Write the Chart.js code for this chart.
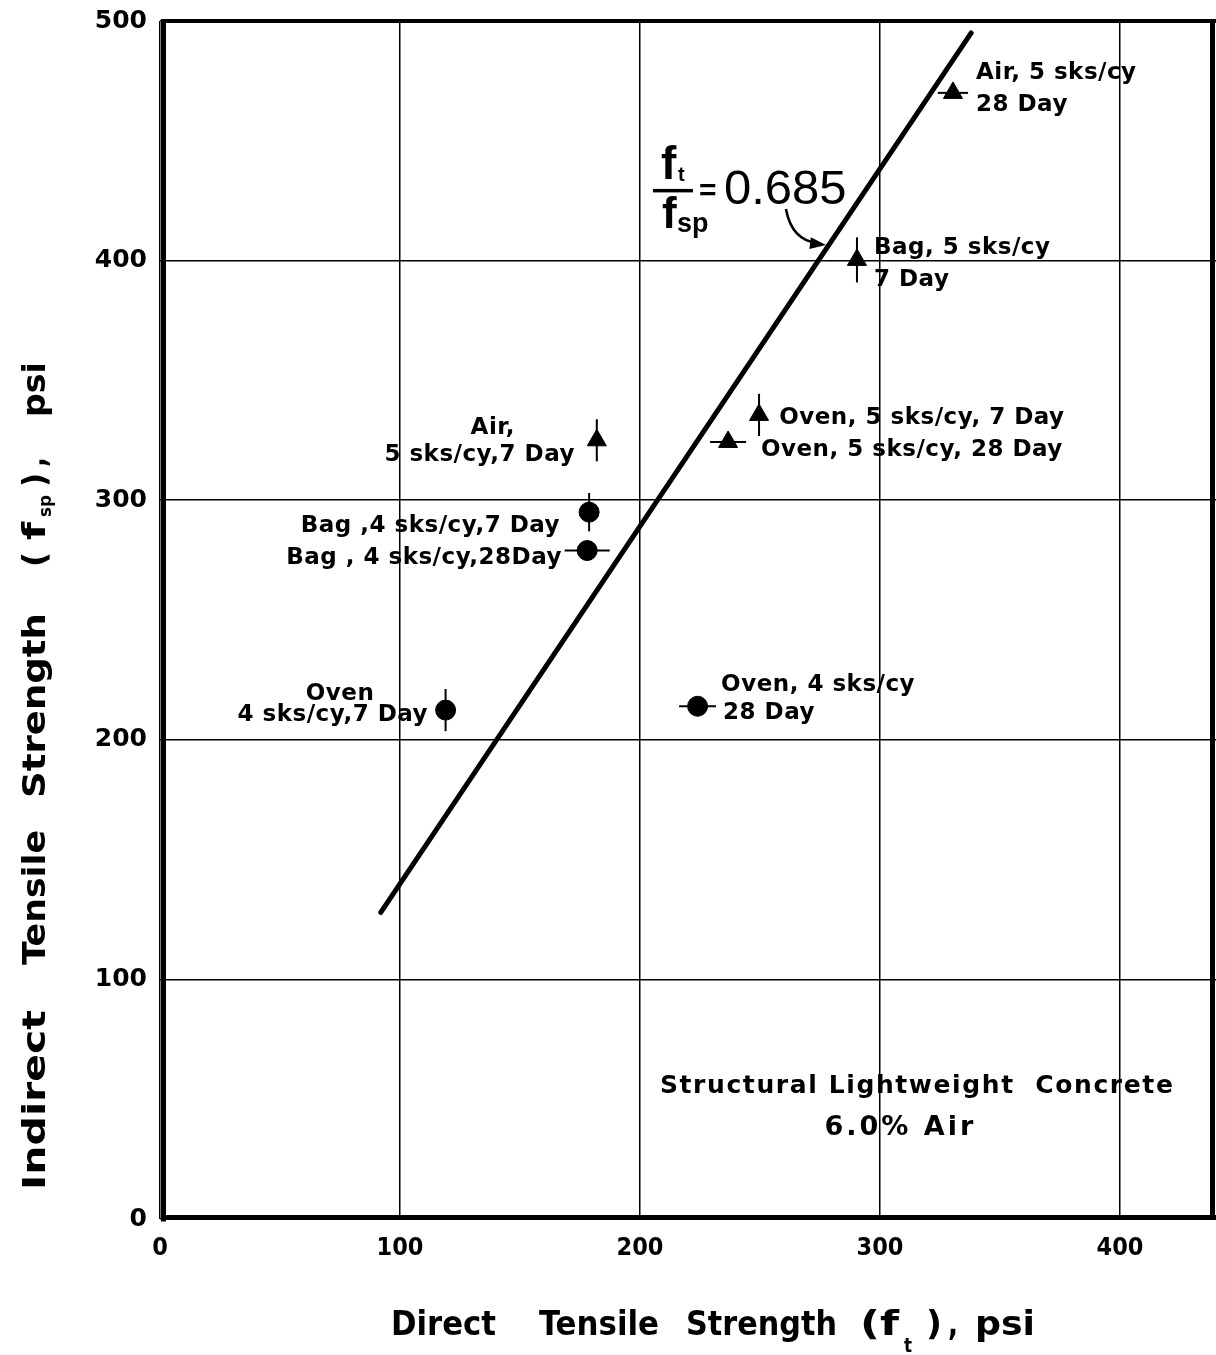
<!DOCTYPE html>
<html><head><meta charset="utf-8">
<script src="https://cdn.jsdelivr.net/npm/chart.js@4/dist/chart.umd.min.js"></script>
<style>html,body{margin:0;padding:0;background:#fff;overflow:hidden;}#wrap{width:1216px;height:1355px;position:relative;}canvas{display:block;}</style>
</head><body><div id="wrap"><canvas id="c" width="1216" height="1355"></canvas></div>
<script>
// ---- data ----
const xTicks = [0, 100, 200, 300, 400];
const yTicks = [0, 100, 200, 300, 400, 500];
// 5 sks/cy mixes (triangles)
const triNames = ["Air 5 sks/cy 28 Day", "Bag 5 sks/cy 7 Day", "Oven 5 sks/cy 7 Day", "Oven 5 sks/cy 28 Day", "Air 5 sks/cy 7 Day"];
const triX = [330.4, 290.4, 249.6, 236.7, 182.0];
const triY = [470.0, 400.3, 335.6, 324.3, 325.0];
const triXErr = [6.3, 0, 0, 7.5, 0];
const triYErr = [0, 9.4, 8.8, 0, 8.8];
// 4 sks/cy mixes (circles)
const cirNames = ["Bag 4 sks/cy 7 Day", "Bag 4 sks/cy 28 Day", "Oven 4 sks/cy 7 Day", "Oven 4 sks/cy 28 Day"];
const cirX = [178.8, 178.0, 119.0, 224.0];
const cirY = [295.0, 279.0, 212.4, 214.0];
const cirXErr = [0, 9.4, 0, 7.7];
const cirYErr = [8.0, 0, 8.8, 0];
// ratio line f_t / f_sp = 0.685
const lineX = [92, 338];
const lineY = [128, 495];

// ---- annotation text (anchors in data units) ----
const pointLabels = [
  {t: "Air, 5 sks/cy", x: 340, y: 478.3, a: "left"},
  {t: "28 Day", x: 340, y: 465.0, a: "left"},
  {t: "Bag, 5 sks/cy", x: 297.5, y: 405.3, a: "left"},
  {t: "7 Day", x: 297.5, y: 392.0, a: "left"},
  {t: "Oven, 5 sks/cy, 7 Day", x: 258, y: 334.3, a: "left"},
  {t: "Oven, 5 sks/cy, 28 Day", x: 250.4, y: 321.0, a: "left"},
  {t: "Air,", x: 147.9, y: 330.0, a: "right"},
  {t: "5 sks/cy,7 Day", x: 172.9, y: 318.9, a: "right"},
  {t: "Bag ,4 sks/cy,7 Day", x: 166.7, y: 289.2, a: "right"},
  {t: "Bag , 4 sks/cy,28Day", x: 167.5, y: 275.9, a: "right"},
  {t: "Oven", x: 75, y: 219.1, a: "center"},
  {t: "4 sks/cy,7 Day", x: 111.7, y: 210.4, a: "right"},
  {t: "Oven, 4 sks/cy", x: 233.8, y: 222.9, a: "left"},
  {t: "28 Day", x: 234.6, y: 211.2, a: "left"}
];
const noteLines = ["Structural Lightweight  Concrete", "6.0% Air"];
const noteX = [315.5, 308.5];
const noteY = [55.5, 38.0];
const ratioText = "0.685";

const FONT = '"DejaVu Sans", sans-serif';
const CFONT = '"DejaVu Sans Condensed", "DejaVu Sans", sans-serif';

function fitText(ctx, text, x, y, w) {
  const m = ctx.measureText(text).width;
  ctx.save(); ctx.translate(x, y); ctx.scale(w / m, 1); ctx.fillText(text, 0, 0); ctx.restore();
}
function noPad(s) { s.paddingLeft = 0; s.paddingRight = 0; s.paddingTop = 0; s.paddingBottom = 0; }

const decor = {
  id: 'decor',
  afterDatasetsDraw(chart) {
    const ctx = chart.ctx, xs = chart.scales.x, ys = chart.scales.y, ca = chart.chartArea;
    ctx.save();
    ctx.fillStyle = '#000'; ctx.strokeStyle = '#000';
    // error bars
    ctx.lineWidth = 2;
    const bars = (X, Y, XE, YE) => {
      for (let i = 0; i < X.length; i++) {
        const px = xs.getPixelForValue(X[i]), py = ys.getPixelForValue(Y[i]);
        if (XE[i]) { ctx.beginPath(); ctx.moveTo(xs.getPixelForValue(X[i] - XE[i]), py); ctx.lineTo(xs.getPixelForValue(X[i] + XE[i]), py); ctx.stroke(); }
        if (YE[i]) { ctx.beginPath(); ctx.moveTo(px, ys.getPixelForValue(Y[i] - YE[i])); ctx.lineTo(px, ys.getPixelForValue(Y[i] + YE[i])); ctx.stroke(); }
      }
    };
    bars(triX, triY, triXErr, triYErr);
    bars(cirX, cirY, cirXErr, cirYErr);
    // point labels
    ctx.font = 'bold 23px ' + FONT; ctx.textBaseline = 'middle';
    ctx.letterSpacing = '0.5px';
    for (const l of pointLabels) { ctx.textAlign = l.a; ctx.fillText(l.t, xs.getPixelForValue(l.x), ys.getPixelForValue(l.y)); }
    // note
    ctx.font = 'bold 25px ' + FONT; ctx.textAlign = 'center';
    ctx.letterSpacing = '1.6px';
    ctx.fillText(noteLines[0], xs.getPixelForValue(noteX[0]), ys.getPixelForValue(noteY[0]));
    ctx.font = 'bold 27px ' + FONT;
    ctx.letterSpacing = '3px';
    ctx.fillText(noteLines[1], xs.getPixelForValue(noteX[1]), ys.getPixelForValue(noteY[1]));
    ctx.letterSpacing = '0px';
    // equation f_t / f_sp = 0.685
    const ax = xs.getPixelForValue(205.4), ay = ys.getPixelForValue(429.3);
    ctx.fillRect(ax, ay - 1.5, 40, 3.5);
    ctx.textAlign = 'left'; ctx.textBaseline = 'alphabetic';
    ctx.font = 'bold 46px "Liberation Sans", sans-serif';
    ctx.fillText('f', ax + 8, ay - 11);
    ctx.font = 'bold 20px "Liberation Sans", sans-serif';
    ctx.fillText('t', ax + 25, ay - 9);
    ctx.font = 'bold 44px "Liberation Sans", sans-serif';
    ctx.fillText('f', ax + 9, ay + 38);
    ctx.font = 'bold 27px "Liberation Sans", sans-serif';
    ctx.fillText('sp', ax + 24, ay + 42);
    ctx.font = 'bold 30px "Liberation Sans", sans-serif';
    ctx.fillText('=', ax + 46, ay + 10);
    ctx.font = '49px "Liberation Sans", sans-serif';
    ctx.fillText(ratioText, ax + 71, ay + 14);
    // arrow
    const sx = xs.getPixelForValue(260.8), sy = ys.getPixelForValue(421.5);
    const ex = xs.getPixelForValue(277.5), ey = ys.getPixelForValue(406.5);
    const cx = sx + 6, cy = ey - 4;
    ctx.lineWidth = 2.5;
    ctx.beginPath(); ctx.moveTo(sx, sy); ctx.quadraticCurveTo(cx, cy, ex - 8, ey - 2); ctx.stroke();
    const ang = Math.atan2(ey - cy, ex - cx);
    ctx.beginPath();
    ctx.moveTo(ex, ey);
    ctx.lineTo(ex - 16 * Math.cos(ang) + 6 * Math.sin(ang), ey - 16 * Math.sin(ang) - 6 * Math.cos(ang));
    ctx.lineTo(ex - 16 * Math.cos(ang) - 6 * Math.sin(ang), ey - 16 * Math.sin(ang) + 6 * Math.cos(ang));
    ctx.closePath(); ctx.fill();
    // frame
    ctx.lineWidth = 5;
    ctx.beginPath(); ctx.moveTo(ca.left + 3.5, ca.top - 2); ctx.lineTo(ca.left + 3.5, ca.bottom + 2.5); ctx.stroke();
    ctx.beginPath(); ctx.moveTo(ca.left + 1, ca.bottom - 1.5); ctx.lineTo(ca.right, ca.bottom - 1.5); ctx.stroke();
    ctx.beginPath(); ctx.moveTo(ca.right - 3.5, ca.top - 2); ctx.lineTo(ca.right - 3.5, ca.bottom); ctx.stroke();
    ctx.lineWidth = 4;
    ctx.beginPath(); ctx.moveTo(ca.left + 1, ca.top); ctx.lineTo(ca.right, ca.top); ctx.stroke();
    // axis titles
    ctx.textAlign = 'left'; ctx.textBaseline = 'alphabetic';
    ctx.font = 'bold 34px ' + CFONT;
    const xt = [["Direct", 391, 496], ["Tensile", 539, 659], ["Strength", 686, 837], ["(f", 860, 899], [")", 926, 942], [",", 948, 958], ["psi", 975, 1035]];
    for (const p of xt) fitText(ctx, p[0], p[1], 1335, p[2] - p[1]);
    ctx.font = 'bold 20px ' + CFONT;
    fitText(ctx, 't', 904, 1352, 8);
    // y title rotated
    ctx.font = 'bold 32px ' + CFONT;
    const yt = [["Indirect", 1190, 1010], ["Tensile", 965, 830], ["Strength", 798, 613], ["(", 567, 552], ["f", 540, 522], [")", 487, 473], [",", 467, 457], ["psi", 417, 362]];
    for (const p of yt) {
      ctx.save(); ctx.translate(45, p[1]); ctx.rotate(-Math.PI / 2);
      fitText(ctx, p[0], 0, 0, p[1] - p[2]); ctx.restore();
    }
    ctx.font = 'bold 17px ' + CFONT;
    ctx.save(); ctx.translate(51, 517); ctx.rotate(-Math.PI / 2); fitText(ctx, 'sp', 0, 0, 22); ctx.restore();
    ctx.restore();
  }
};

new Chart(document.getElementById('c'), {
  data: {
    datasets: [
      { type: 'line', label: 'ratio', data: lineX.map((x, i) => ({x, y: lineY[i]})), borderColor: '#000', borderWidth: 5, pointRadius: 0, fill: false, borderCapStyle: 'round' },
      { type: 'scatter', label: '5 sks/cy', data: triX.map((x, i) => ({x, y: triY[i]})), pointStyle: 'triangle', pointRadius: 11, backgroundColor: '#000', borderColor: '#000', borderWidth: 1 },
      { type: 'scatter', label: '4 sks/cy', data: cirX.map((x, i) => ({x, y: cirY[i]})), pointStyle: 'circle', pointRadius: 10, backgroundColor: '#000', borderColor: '#000', borderWidth: 1 }
    ]
  },
  options: {
    responsive: false, animation: false, devicePixelRatio: 1,
    layout: { autoPadding: false, padding: { top: 21, right: 0, bottom: 0, left: 0 } },
    plugins: { legend: { display: false }, tooltip: { enabled: false } },
    scales: {
      x: {
        type: 'linear', min: 0, max: 440,
        afterBuildTicks: s => { s.ticks = xTicks.map(v => ({value: v})); },
        afterFit: s => { s.height = 136; noPad(s); },
        ticks: { color: '#000', padding: 14, font: { family: CFONT, size: 25, weight: 'bold' } },
        grid: { color: '#000', lineWidth: 1.5, drawTicks: false },
        border: { display: false }
      },
      y: {
        type: 'linear', min: 0, max: 500,
        afterBuildTicks: s => { s.ticks = yTicks.map(v => ({value: v})); },
        afterFit: s => { s.width = 160; noPad(s); },
        ticks: { color: '#000', padding: 13, font: { family: FONT, size: 25, weight: 'bold' } },
        grid: { color: '#000', lineWidth: 1.5, drawTicks: false },
        border: { display: false }
      }
    }
  },
  plugins: [decor]
});
</script></body></html>
